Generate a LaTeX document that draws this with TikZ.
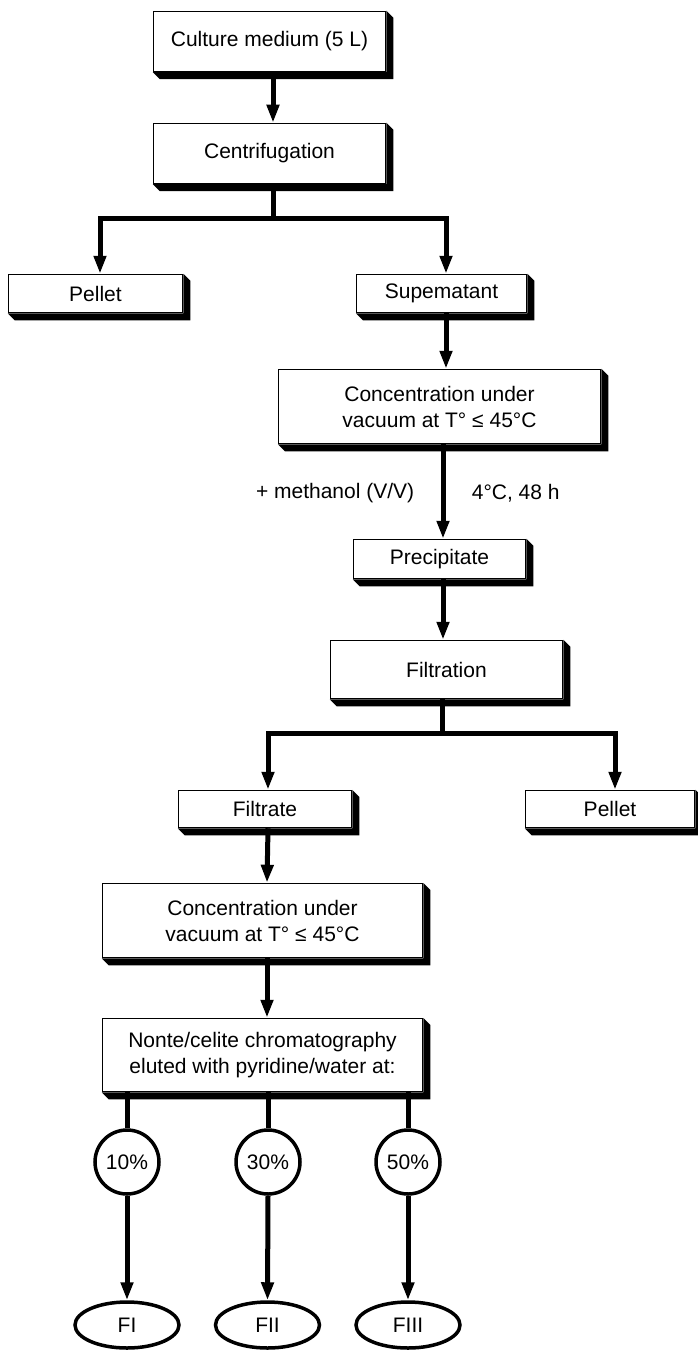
\documentclass[tikz,border=0pt]{standalone}
\usepackage{fontspec}
\setmainfont{Liberation Sans}
\usetikzlibrary{arrows.meta,calc,shapes.geometric}
\newcommand{\boxshade}[1]{\fill (#1.north east) -- ($(#1.north east)+(7,7)$) -- ($(#1.south east)+(7,7)$) -- ($(#1.south west)+(7,7)$) -- (#1.south west) -- (#1.south east) -- cycle;}
\begin{document}
\begin{tikzpicture}[x=1pt,y=-1pt,line join=miter,
  txt/.style={font=\fontsize{21}{26}\selectfont},
  box/.style={draw, line width=1.5pt, fill=white, inner sep=0pt, align=center, txt},
  arr/.style={line width=5pt, -{Triangle[length=18pt,width=12pt]}},
  link/.style={line width=5pt},
  pct/.style={circle, draw, line width=3.5pt, minimum size=64pt, inner sep=0pt, txt},
  frac/.style={ellipse, draw, line width=3.5pt, minimum width=104pt, minimum height=46pt, inner sep=0pt, txt}]
\useasboundingbox (0,0) rectangle (698,1351);

% boxes
\node[box, minimum width=232pt, minimum height=60pt] (b1) at (269.5,41.5) {Culture medium (5 L)};
\node[box, minimum width=232pt, minimum height=60pt] (b2) at (269.5,153.5) {Centrifugation};
\node[box, minimum width=174pt, minimum height=38pt] (pel1) at (95.5,293.5) {Pellet};
\node[box, minimum width=170pt, minimum height=38pt] (sup) at (441.5,293.5) {Supematant};
\node[box, minimum width=322pt, minimum height=74pt] (conc1) at (439.5,406.5) {Concentration under\\vacuum at T° ≤ 45°C};
\node[box, minimum width=172pt, minimum height=39pt] (prec) at (439.5,559) {Precipitate};
\node[box, minimum width=232pt, minimum height=58pt] (filt) at (446.5,669.5) {Filtration};
\node[box, minimum width=173pt, minimum height=37pt] (filtr) at (265,809) {Filtrate};
\node[box, minimum width=169pt, minimum height=37pt] (pel2) at (610,809) {Pellet};
\node[box, minimum width=320pt, minimum height=74pt] (conc2) at (262.5,920.5) {Concentration under\\vacuum at T° ≤ 45°C};
\node[box, minimum width=320pt, minimum height=73pt] (chrom) at (262.5,1055) {Nonte/celite chromatography\\eluted with pyridine/water at:};

\foreach \n in {b1,b2,pel1,sup,conc1,prec,filt,filtr,pel2,conc2,chrom} {\boxshade{\n}}

% circles and ellipses
\node[pct] (c1) at (127,1162) {10\%};
\node[pct] (c2) at (268,1162) {30\%};
\node[pct] (c3) at (408,1162) {50\%};
\node[frac] (e1) at (127,1325) {FI};
\node[frac] (e2) at (267.5,1325) {FII};
\node[frac] (e3) at (408,1325) {FIII};

% connectors
\draw[arr] ([xshift=3.5pt]b1.south) -- ([xshift=3.5pt]b2.north);
\coordinate (j1) at (273,218);
\draw[link] ([xshift=3.5pt]b2.south) -- (j1);
\draw[arr] (j1) -| ([xshift=4.5pt]pel1.north);
\draw[arr] (j1) -| ([xshift=4.5pt]sup.north);
\draw[arr] ([xshift=4.5pt]sup.south) -- ([xshift=6.5pt]conc1.north);
\draw[arr] ([xshift=3.5pt]conc1.south) -- ([xshift=3.5pt]prec.north)
  node[txt, pos=0.52, left=23pt] {+ methanol (V/V)}
  node[txt, pos=0.52, right=23pt] {4°C, 48 h};
\draw[arr] ([xshift=3.5pt]prec.south) -- ([xshift=-3.5pt]filt.north);
\coordinate (j2) at (442,733);
\draw[link] ([xshift=-4.5pt]filt.south) -- (j2);
\draw[arr] (j2) -| ([xshift=3pt]filtr.north);
\draw[arr] (j2) -| ([xshift=5pt]pel2.north);
\draw[arr] ([xshift=3pt]filtr.south) -- ([xshift=4.5pt]conc2.north);
\draw[arr] ([xshift=4.5pt]conc2.south) -- ([xshift=4.5pt]chrom.north);
\draw[link] (c1.north) -- (c1.north |- chrom.south);
\draw[link] (c2.north) -- (c2.north |- chrom.south);
\draw[link] (c3.north) -- (c3.north |- chrom.south);
\draw[arr] (c1.south) -- (e1.north);
\draw[arr] (c2.south) -- (e2.north);
\draw[arr] (c3.south) -- (e3.north);
\end{tikzpicture}
\end{document}
